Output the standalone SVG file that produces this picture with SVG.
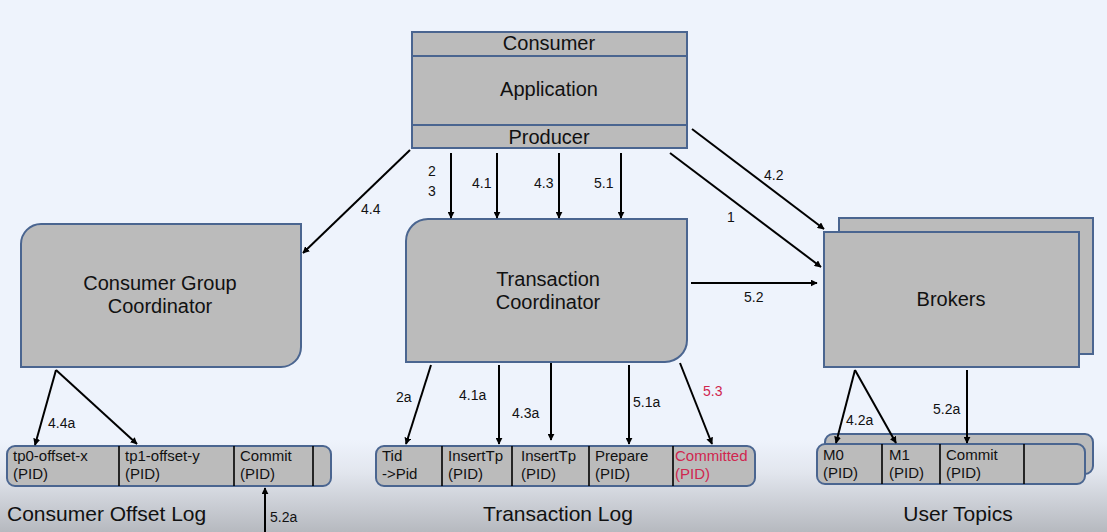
<svg xmlns="http://www.w3.org/2000/svg" width="1107" height="532" viewBox="0 0 1107 532">
<defs>
<linearGradient id="bg" x1="0" y1="0" x2="0" y2="1">
<stop offset="0" stop-color="#eef3fc"/>
<stop offset="0.35" stop-color="#e2e6ee"/>
<stop offset="1" stop-color="#b6b9bf"/>
</linearGradient>
<marker id="ah" viewBox="0 0 10 10" refX="9" refY="5" markerWidth="7" markerHeight="7" markerUnits="userSpaceOnUse" orient="auto">
<path d="M0,0 L10,5 L0,10 z" fill="#000"/>
</marker>
<style>
.box{fill:#bbbbbb;stroke:#4a6590;stroke-width:2}
.div{stroke:#000;stroke-width:1.6}
.t{font-family:"Liberation Sans",Arial,sans-serif;fill:#111}
.big{font-size:20px;text-anchor:middle}
.lbl{font-size:14px}
.log{font-size:15px}
.cap{font-size:21px}
.red{fill:#d0264e}
.c{stroke:#000;stroke-width:2;fill:none;marker-end:url(#ah)}
</style>
</defs>
<rect width="1107" height="532" fill="#eef3fc"/>
<rect x="0" y="440" width="1107" height="92" fill="url(#bg)"/>

<g id="application">
<rect class="box" x="412" y="32" width="275" height="116"/>
<line x1="412" y1="56" x2="687" y2="56" stroke="#4a6590" stroke-width="2"/>
<line x1="412" y1="125" x2="687" y2="125" stroke="#4a6590" stroke-width="2"/>
<text class="t big" x="549" y="50" font-size="19">Consumer</text>
<text class="t big" x="549" y="96">Application</text>
<text class="t big" x="549" y="144" font-size="19">Producer</text>
</g>

<g id="consumer-group-coordinator">
<path class="box" d="M41,224 H301 V347 A20,20 0 0 1 281,367 H21 V244 A20,20 0 0 1 41,224 z"/>
<text class="t big" x="160" y="290">Consumer Group</text>
<text class="t big" x="160" y="313">Coordinator</text>
</g>

<g id="transaction-coordinator">
<path class="box" d="M428,219 H687 V340 A22,22 0 0 1 665,362 H406 V241 A22,22 0 0 1 428,219 z"/>
<text class="t big" x="548" y="286">Transaction</text>
<text class="t big" x="548" y="309">Coordinator</text>
</g>

<g id="brokers">
<rect class="box" x="839" y="218" width="254" height="136"/>
<rect class="box" x="824" y="232" width="255" height="135"/>
<text class="t big" x="951" y="306">Brokers</text>
</g>

<g id="consumer-offset-log">
<rect class="box" x="7" y="446" width="324" height="40" rx="8"/>
<line class="div" x1="119" y1="446" x2="119" y2="486"/>
<line class="div" x1="234" y1="446" x2="234" y2="486"/>
<line class="div" x1="313" y1="446" x2="313" y2="486"/>
<text class="t log" x="13" y="461">tp0-offset-x</text>
<text class="t log" x="13" y="479">(PID)</text>
<text class="t log" x="125" y="461">tp1-offset-y</text>
<text class="t log" x="125" y="479">(PID)</text>
<text class="t log" x="240" y="461">Commit</text>
<text class="t log" x="240" y="479">(PID)</text>
<text class="t cap" x="7" y="521">Consumer Offset Log</text>
</g>

<g id="transaction-log">
<rect class="box" x="376" y="446" width="379" height="40" rx="8"/>
<line class="div" x1="442" y1="446" x2="442" y2="486"/>
<line class="div" x1="512" y1="446" x2="512" y2="486"/>
<line class="div" x1="589" y1="446" x2="589" y2="486"/>
<line class="div" x1="673" y1="446" x2="673" y2="486"/>
<text class="t log" x="382" y="461">Tid</text>
<text class="t log" x="382" y="479">-&gt;Pid</text>
<text class="t log" x="448" y="461">InsertTp</text>
<text class="t log" x="448" y="479">(PID)</text>
<text class="t log" x="521" y="461">InsertTp</text>
<text class="t log" x="521" y="479">(PID)</text>
<text class="t log" x="595" y="461">Prepare</text>
<text class="t log" x="595" y="479">(PID)</text>
<text class="t log red" x="675" y="461">Committed</text>
<text class="t log red" x="675" y="479">(PID)</text>
<text class="t cap" x="558" y="521" text-anchor="middle">Transaction Log</text>
</g>

<g id="user-topics">
<rect class="box" x="825" y="434" width="268" height="40" rx="8"/>
<rect class="box" x="817" y="444" width="268" height="40" rx="8"/>
<line class="div" x1="882" y1="444" x2="882" y2="484"/>
<line class="div" x1="940" y1="444" x2="940" y2="484"/>
<line class="div" x1="1024" y1="444" x2="1024" y2="484"/>
<text class="t log" x="823" y="460">M0</text>
<text class="t log" x="823" y="478">(PID)</text>
<text class="t log" x="889" y="460">M1</text>
<text class="t log" x="889" y="478">(PID)</text>
<text class="t log" x="946" y="460">Commit</text>
<text class="t log" x="946" y="478">(PID)</text>
<text class="t cap" x="958" y="521" text-anchor="middle">User Topics</text>
</g>

<g id="connectors">
<line class="c" x1="410" y1="150" x2="303" y2="253"/>
<line class="c" x1="451" y1="153" x2="451" y2="218"/>
<line class="c" x1="497" y1="153" x2="497" y2="218"/>
<line class="c" x1="559" y1="153" x2="559" y2="218"/>
<line class="c" x1="621" y1="153" x2="621" y2="218"/>
<line class="c" x1="670" y1="153" x2="821" y2="267"/>
<line class="c" x1="692" y1="129" x2="824" y2="229"/>
<line class="c" x1="691" y1="283" x2="817" y2="283"/>
<line class="c" x1="56" y1="370" x2="35" y2="445"/>
<line class="c" x1="56" y1="370" x2="137" y2="444"/>
<line class="c" x1="431" y1="365" x2="406" y2="444"/>
<line class="c" x1="499" y1="365" x2="499" y2="444"/>
<line class="c" x1="551" y1="363" x2="551" y2="440"/>
<line class="c" x1="629" y1="365" x2="629" y2="444"/>
<line class="c" x1="680" y1="363" x2="712" y2="444"/>
<line class="c" x1="855" y1="370" x2="836" y2="443"/>
<line class="c" x1="855" y1="370" x2="896" y2="443"/>
<line class="c" x1="967" y1="370" x2="967" y2="443"/>
<line class="c" x1="265" y1="532" x2="265" y2="488"/>
<text class="t lbl" x="361" y="214">4.4</text>
<text class="t lbl" x="428" y="176">2</text>
<text class="t lbl" x="428" y="196">3</text>
<text class="t lbl" x="472" y="188">4.1</text>
<text class="t lbl" x="534" y="188">4.3</text>
<text class="t lbl" x="594" y="188">5.1</text>
<text class="t lbl" x="727" y="222">1</text>
<text class="t lbl" x="764" y="180">4.2</text>
<text class="t lbl" x="744" y="302">5.2</text>
<text class="t lbl" x="48" y="428">4.4a</text>
<text class="t lbl" x="396" y="402">2a</text>
<text class="t lbl" x="459" y="400">4.1a</text>
<text class="t lbl" x="512" y="418">4.3a</text>
<text class="t lbl" x="633" y="407">5.1a</text>
<text class="t lbl red" x="703" y="396">5.3</text>
<text class="t lbl" x="846" y="425">4.2a</text>
<text class="t lbl" x="933" y="414">5.2a</text>
<text class="t lbl" x="270" y="522">5.2a</text>
</g>
</svg>
